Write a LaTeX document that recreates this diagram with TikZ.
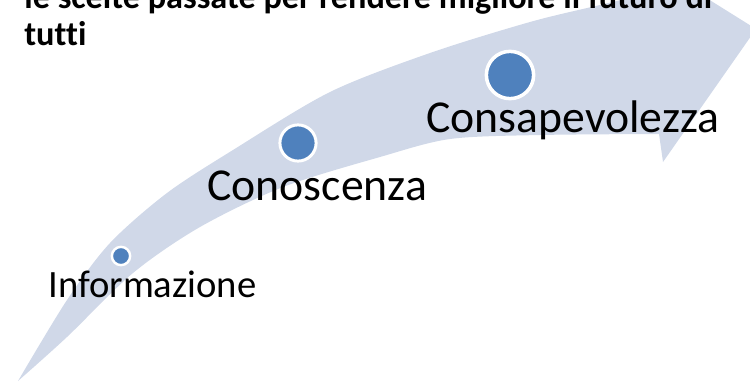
\documentclass[tikz,border=0pt]{standalone}
\usepackage{fontspec}
\setmainfont[Ligatures=NoCommon]{Carlito}

\definecolor{banda}{HTML}{D0D8E8}
\definecolor{punto}{HTML}{4F81BD}

\tikzset{
  etichetta/.style={anchor=base west,inner sep=0pt,font=\fontsize{26}{30}\selectfont},
  titolo/.style={anchor=base west,inner sep=0pt,font=\bfseries\fontsize{19.5}{23}\selectfont},
  pallino/.style={circle,fill=punto,draw=white,inner sep=0pt},
}

\begin{document}
\begin{tikzpicture}[x=0.02cm,y=-0.02cm]

    %Area (pixel, y verso il basso)
    \useasboundingbox (0,0) rectangle (750,382);
    \clip (0,0) rectangle (750,382);

    %Freccia curva
    \fill[banda] plot[smooth] coordinates {(18,381) (67,300) (110,243) (167,193) (233,150) (330,92) (430,53) (530,22) (600,5) (655,-8)}
        -- (676,-21) -- (756,29) -- (663,162) -- (659,134)
        -- plot[smooth] coordinates {(659,134) (540,135) (450,139) (380,157) (283,187) (200,227) (133,273) (67,337) (18,381)} -- cycle;

    %Titolo
    \node[titolo] (tit1) at (24,9) {le scelte passate per rendere migliore il futuro di};
    \node[titolo] (tit2) at (24,45) {tutti};

    %Punti
    \node[pallino,minimum size=10.4pt,line width=1.4pt] (p1) at (121,256) {};
    \node[pallino,minimum size=20.6pt,line width=1.7pt] (p2) at (298,143) {};
    \node[pallino,minimum size=26.9pt,line width=2pt] (p3) at (510,75) {};

    %Etichette
    \node[etichetta,font=\fontsize{22}{26}\selectfont] (info) at (48,297) {Informazione};
    \node[etichetta] (cono) at (207,200) {Conoscenza};
    \node[etichetta] (consa) at (426,132) {Consapevolezza};

\end{tikzpicture}
\end{document}
